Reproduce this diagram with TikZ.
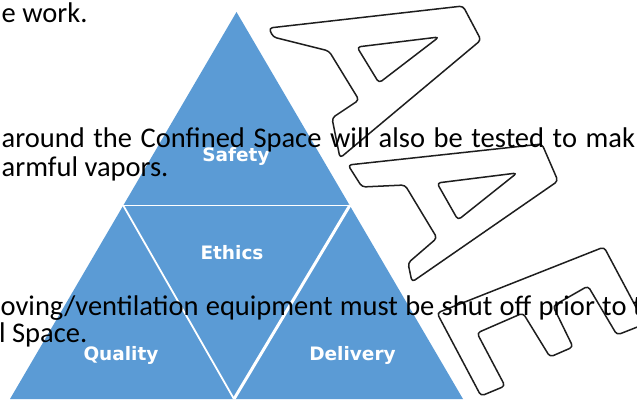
\documentclass[tikz,border=0pt]{standalone}
\usepackage{fontspec}
\setmainfont{Carlito}
\newfontfamily\labelfont{DejaVu Sans}
\definecolor{triblue}{HTML}{5B9BD5}
\definecolor{outl}{HTML}{1E1E1E}
\begin{document}
\begin{tikzpicture}[x=1pt,y=-1pt,
  lbl/.style={text=white, font=\labelfont\bfseries\fontsize{18.5}{20}\selectfont, anchor=base, inner sep=0pt},
  bodytext/.style={font=\fontsize{28.5}{34}\selectfont, anchor=base west, inner sep=0pt, text=black},
  letter/.style={draw=outl, line width=1.5pt, fill=white, rounded corners=3.5pt, line join=round},
  sep/.style={draw=white}]
\useasboundingbox (0,0) rectangle (637,401);
\clip (0,0) rectangle (637,401);
% pyramid
\coordinate (apex) at (236.5,12);
\coordinate (bl) at (10,399);
\coordinate (br) at (463,399);
\coordinate (ml) at (123.25,205.5);
\coordinate (mr) at (349.75,205.5);
\coordinate (bm) at (234,399);
\fill[triblue] (apex) -- (bl) -- (br) -- cycle;
\draw[sep, line width=1.5pt] (ml) -- (mr);
\draw[sep, line width=1.8pt] (ml) -- (bm);
\draw[sep, line width=3pt] (mr) -- (bm);
\node[lbl] (safety) at (236,161) {Safety};
\node[lbl] (ethics) at (232,259) {Ethics};
\node[lbl] (quality) at (121,360) {Quality};
\node[lbl] (delivery) at (352.5,360) {Delivery};
% AAE outlined letters
\path[letter, even odd rule] (269,28) -- (273,37) -- (329,51) -- (359,100) -- (332,118) -- (340,158) -- (481,40) -- (463,6) -- cycle
  (357,47) -- (439,37) -- (379,83) -- cycle;
\path[letter, even odd rule] (348,165) -- (362,187) -- (405,185) -- (437,238) -- (408,263) -- (412,282) -- (558,181) -- (542,144) -- cycle
  (437,183) -- (517,173) -- (458,220) -- cycle;
\path[letter] (437,313) -- (481,396) -- (505,386) -- (477,333) -- (523,313) -- (550,357) -- (573,347) -- (553,306) -- (588,286) -- (617,335) -- (645,324) -- (604,247) -- cycle;
% body text
\node[bodytext] (l1) at (1.5,23) {e work.};
\node[bodytext] (l2) at (1.5,147) {\hbox to 633.5pt{around the Confined Space will also be tested to mak}};
\node[bodytext] (l3) at (1.5,176) {armful vapors.};
\node[bodytext] (l4) at (0.5,315) {\hbox to 626pt{oving/ventilation equipment must be shut off prior to}\ t};
\node[bodytext] (l5) at (-1,342) {l Space.};
\end{tikzpicture}
\end{document}
